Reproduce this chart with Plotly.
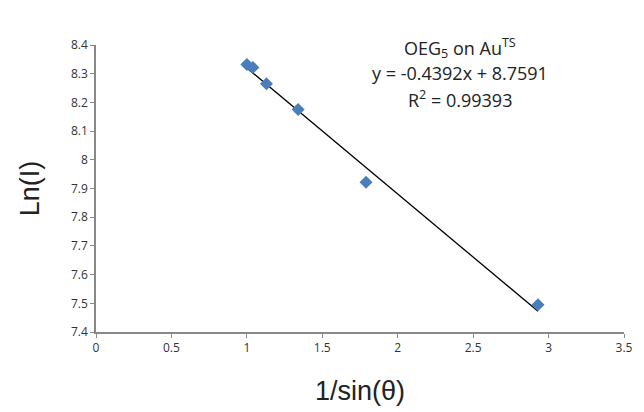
import plotly.graph_objects as go

x_vals = [1.0, 1.04, 1.13, 1.34, 1.79, 2.93]
y_vals = [8.332, 8.322, 8.265, 8.175, 7.922, 7.495]
slope = -0.4392
intercept = 8.7591
x_ticks = [0, 0.5, 1, 1.5, 2, 2.5, 3, 3.5]
y_ticks = [7.4, 7.5, 7.6, 7.7, 7.8, 7.9, 8, 8.1, 8.2, 8.3, 8.4]

x_fit = [min(x_vals), max(x_vals)]
y_fit = [slope * v + intercept for v in x_fit]

fig = go.Figure()
fig.add_trace(go.Scatter(x=x_fit, y=y_fit, mode="lines",
                         line=dict(color="black", width=1.3), showlegend=False))
fig.add_trace(go.Scatter(x=x_vals, y=y_vals, mode="markers",
                         marker=dict(symbol="diamond", size=10, color="#4A7EBB"),
                         showlegend=False))

tickfont = dict(family="Open Sans", size=12, color="#333")
fig.update_xaxes(range=[0, 3.5], tickvals=x_ticks, ticktext=[str(v) for v in x_ticks],
                 showgrid=False, zeroline=False, showline=True, linecolor="#888",
                 linewidth=1.5, ticks="outside", ticklen=4, tickcolor="#888",
                 tickfont=tickfont,
                 title=dict(text="1/sin(θ)", font=dict(family="Liberation Sans", size=27, color="#222"),
                            standoff=26))
fig.update_yaxes(range=[7.4, 8.4], tickvals=y_ticks, ticktext=[f"{v:g}" for v in y_ticks],
                 showgrid=False, zeroline=False, showline=True, linecolor="#888",
                 linewidth=1.5, ticks="outside", ticklen=4, tickcolor="#888",
                 tickfont=tickfont,
                 title=dict(text="Ln(I)", font=dict(family="Liberation Sans", size=27, color="#222"),
                            standoff=24))

ann_font = dict(family="Open Sans", size=18, color="#222")
ann_x = 0.689
fig.add_annotation(x=ann_x, y=0.99, xref="paper", yref="paper", showarrow=False,
                   text="OEG<sub>5</sub> on Au<sup>TS</sup>", font=ann_font,
                   xanchor="center", yanchor="middle")
fig.add_annotation(x=ann_x, y=0.902, xref="paper", yref="paper", showarrow=False,
                   text="y = -0.4392x + 8.7591", font=ann_font,
                   xanchor="center", yanchor="middle")
fig.add_annotation(x=ann_x, y=0.812, xref="paper", yref="paper", showarrow=False,
                   text="R<sup>2</sup> = 0.99393", font=ann_font,
                   xanchor="center", yanchor="middle")

fig.update_layout(width=644, height=412, margin=dict(l=96, r=11, t=45, b=80),
                  paper_bgcolor="white", plot_bgcolor="white")
fig.write_html("out.html")
